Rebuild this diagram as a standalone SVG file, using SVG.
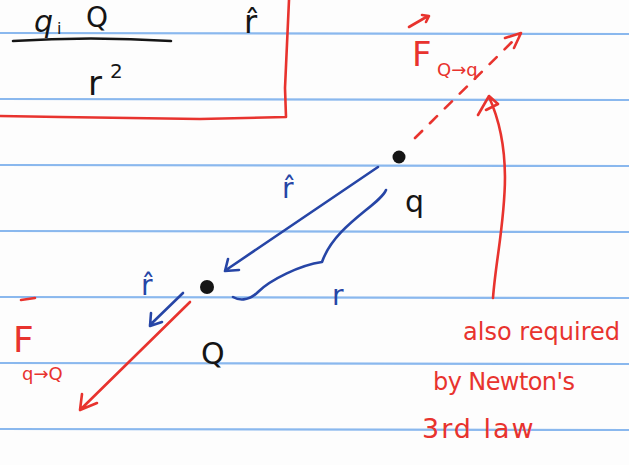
<svg xmlns="http://www.w3.org/2000/svg" width="629" height="465" viewBox="0 0 629 465">
<defs>
<style>
.rule{stroke:#8ab8ee;stroke-width:2.2}
.red{fill:none;stroke:#e8332e;stroke-width:2.6;stroke-linecap:round;stroke-linejoin:round}
.blue{fill:none;stroke:#2645a6;stroke-width:2.6;stroke-linecap:round;stroke-linejoin:round}
.blk{fill:none;stroke:#151515;stroke-width:2.6;stroke-linecap:round}
.tb{font-family:"DejaVu Sans",sans-serif;fill:#151515}
.tr{font-family:"DejaVu Sans",sans-serif;fill:#e8332e}
.tbl{font-family:"DejaVu Sans",sans-serif;fill:#2645a6}
</style>
</defs>
<rect width="629" height="465" fill="#fdfdfd"/>
<g id="ruling">
<line class="rule" x1="0" y1="33" x2="629" y2="34"/>
<line class="rule" x1="0" y1="99" x2="629" y2="100"/>
<line class="rule" x1="0" y1="165" x2="629" y2="166"/>
<line class="rule" x1="0" y1="231" x2="629" y2="232"/>
<line class="rule" x1="0" y1="297" x2="629" y2="298"/>
<line class="rule" x1="0" y1="363" x2="629" y2="364"/>
<line class="rule" x1="0" y1="429" x2="629" y2="430"/>
</g>
<g id="formula-box">
<path class="red" d="M0 116 L60 117 L200 119 L286 117 L285 88 L289 0"/>
<text class="tb" x="34" y="32" font-size="30" font-style="italic">q</text>
<text class="tb" x="57" y="34" font-size="16">i</text>
<text class="tb" x="86" y="27" font-size="28">Q</text>
<path class="blk" d="M13 41 Q90 36 171 41"/>
<text class="tb" x="88" y="95" font-size="34">r</text>
<text class="tb" x="110" y="78" font-size="20">2</text>
<text class="tb" x="244" y="33" font-size="32">r̂</text>
</g>
<g id="charge-q">
<circle cx="399" cy="157" r="6.5" fill="#151515"/>
<text class="tb" x="405" y="212" font-size="30">q</text>
</g>
<g id="charge-Q">
<circle cx="207" cy="287" r="7" fill="#151515"/>
<text class="tb" x="201" y="364" font-size="30">Q</text>
</g>
<g id="connectors">
<path class="blue" d="M378 167 L226 270 M228 259 L225 271 L239 270"/>
<path class="blue" d="M386 190 C380 205 335 225 322 262 C300 265 270 280 258 292 C248 302 238 300 233 297"/>
<path class="blue" d="M183 293 L150 325 M151 313 L150 326 L162 322"/>
<path class="red" d="M190 302 L80 410 M82 394 L80 410 L97 403"/>
<path class="red" d="M415 138 L520 34" stroke-dasharray="10 11"/>
<path class="red" d="M505 38 L521 33 L514 48"/>
<path class="red" d="M493 298 C497 240 520 165 489 97 M478 115 L489 96 L498 104 L486 110"/>
</g>
<g id="label-rhat-1">
<text class="tbl" x="282" y="198" font-size="28">r̂</text>
</g>
<g id="label-r">
<text class="tbl" x="332" y="305" font-size="28">r</text>
</g>
<g id="label-rhat-2">
<text class="tbl" x="141" y="295" font-size="28">r̂</text>
</g>
<g id="label-F-qQ">
<path class="red" d="M21 300 L35 298"/>
<text class="tr" x="13" y="352" font-size="36">F</text>
<text class="tr" x="22" y="380" font-size="18">q→Q</text>
</g>
<g id="label-F-Qq">
<path class="red" d="M409 27 L428 16 M422 15 L429 16 L426 22"/>
<text class="tr" x="412" y="66" font-size="34">F</text>
<text class="tr" x="437" y="76" font-size="18">Q→q</text>
</g>
<g id="note">
<text class="tr" x="463" y="340" font-size="24" textLength="157">also required</text>
<text class="tr" x="433" y="390" font-size="24" textLength="142">by Newton's</text>
<text class="tr" x="422" y="438" font-size="27" letter-spacing="2">3rd law</text>
</g>
</svg>
